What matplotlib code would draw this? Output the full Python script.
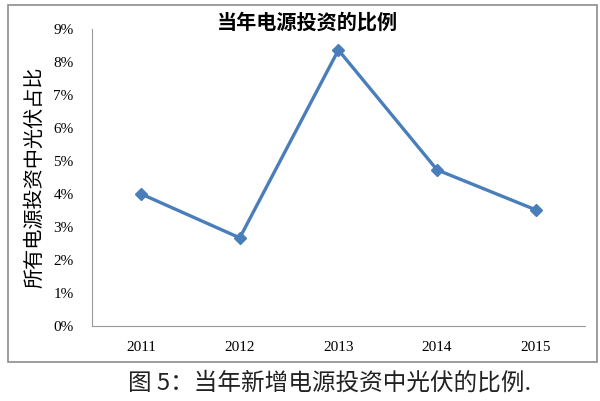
import matplotlib.pyplot as plt
from matplotlib.patches import Rectangle
from matplotlib.ticker import FuncFormatter

plt.rcParams['font.family'] = ['Liberation Serif', 'Noto Sans CJK SC', 'DejaVu Sans']

years = ['2011', '2012', '2013', '2014', '2015']
share = [4.0, 2.67, 8.36, 4.73, 3.52]  # % of all power investment
yticks = list(range(0, 10))

fig = plt.figure(figsize=(6, 4.01), dpi=100)
fig.patch.set_facecolor('white')

# outer chart frame
fig.patches.append(Rectangle((0.013, 0.097), 0.982, 0.891, transform=fig.transFigure,
                             fill=False, edgecolor='#8c8c8c', linewidth=1.2))

ax = fig.add_axes([0.153, 0.187, 0.822, 0.741])
x = range(len(years))
ax.plot(x, share, color='#4a7ebb', linewidth=2.4, marker='D', markersize=6.5)

ax.set_xlim(-0.5, len(years) - 0.5)
ax.set_ylim(0, 9)
ax.set_xticks(list(x))
ax.set_xticklabels(years)
ax.set_yticks(yticks)
ax.yaxis.set_major_formatter(FuncFormatter(lambda v, p: f'{v:.0f}%'))
ax.tick_params(axis='both', length=0, labelsize=11)
ax.tick_params(axis='y', pad=13)
ax.tick_params(axis='x', pad=11)
for s in ['top', 'right']:
    ax.spines[s].set_visible(False)
for s in ['left', 'bottom']:
    ax.spines[s].set_color('#999999')
    ax.spines[s].set_linewidth(0.8)

ax.set_ylabel('所有电源投资中光伏占比', fontsize=14.5, fontfamily=['Noto Sans CJK SC'],
              labelpad=6)
fig.text(0.512, 0.945, '当年电源投资的比例', ha='center', va='center', fontsize=14.5,
         fontweight='bold', fontfamily=['Noto Sans CJK SC'])
fig.text(0.213, 0.045, '图 5：当年新增电源投资中光伏的比例.', ha='left', va='center',
         fontsize=17, fontfamily=['Noto Sans CJK SC'], color='#222222')

fig.savefig('out.png', dpi=100)
